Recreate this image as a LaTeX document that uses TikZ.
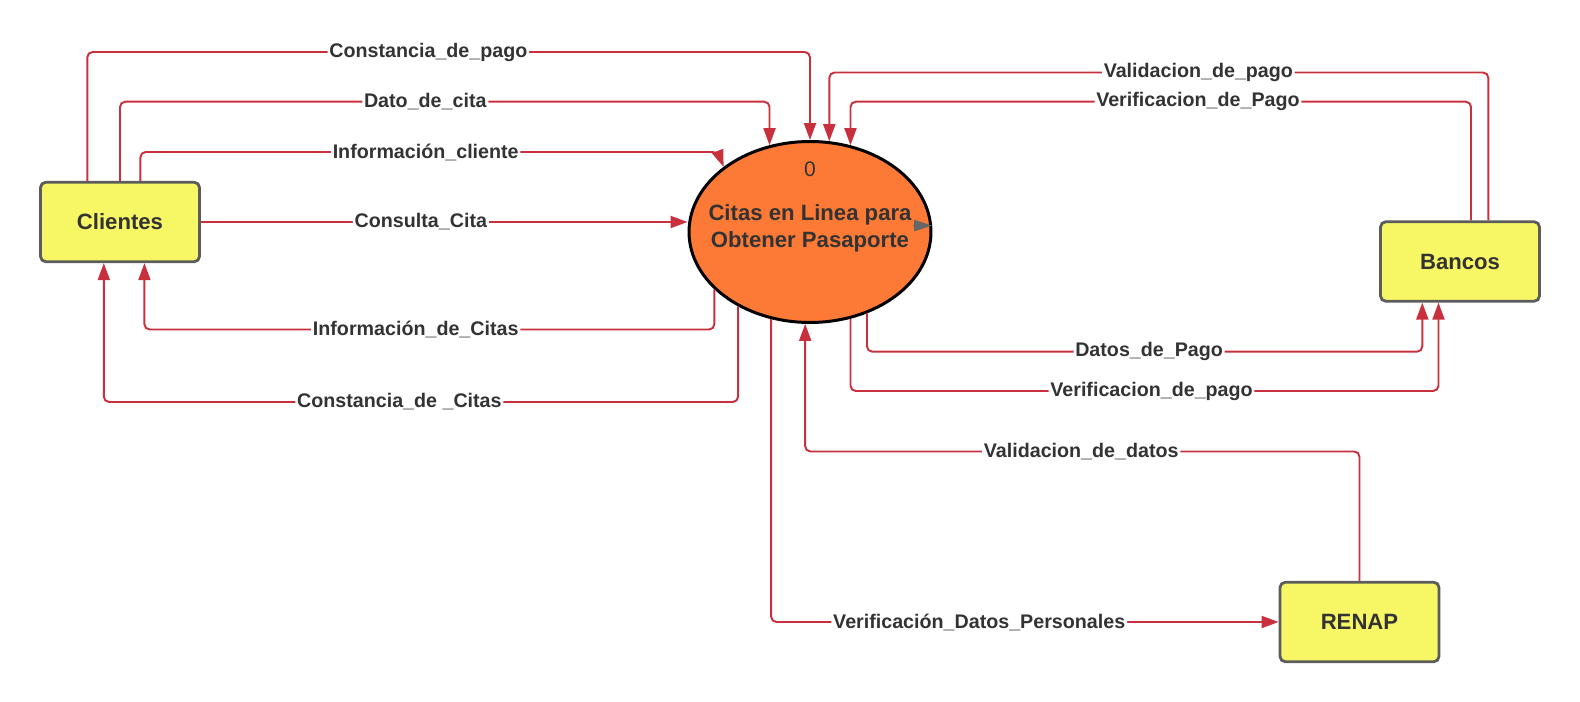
\documentclass[tikz,border=0pt]{standalone}
\usepackage{fontspec}
\setmainfont{Liberation Sans}
\usetikzlibrary{arrows.meta, positioning, shapes.geometric, calc}
\definecolor{flowred}{HTML}{C9303D}
\definecolor{procorange}{HTML}{FC7A35}
\definecolor{boxyellow}{HTML}{F7F766}
\definecolor{boxgray}{HTML}{5C5C5C}
\definecolor{txtgray}{HTML}{333333}
\definecolor{stubgray}{HTML}{666666}

\begin{document}
\begin{tikzpicture}[
  x=0.02cm, y=-0.02cm,
  every node/.style={text=txtgray},
  entbox/.style={rectangle, rounded corners=3pt, minimum width=3.18cm, minimum height=1.59cm, draw=boxgray, line width=1.6pt, fill=boxyellow, font=\fontsize{12.6}{15}\selectfont\bfseries},
  procnode/.style={ellipse, minimum width=4.84cm, minimum height=3.62cm, draw=black, line width=1.7pt, fill=procorange, inner sep=0pt},
  flow/.style={draw=flowred, line width=1.1pt, rounded corners=3pt, -{Triangle[length=0.34cm, width=0.24cm]}},
  flowlbl/.style={fill=white, inner sep=1pt, font=\fontsize{11.2}{13}\selectfont\bfseries},
]
\useasboundingbox (0,0) rectangle (1580,702);

\node[entbox] (cli) at (120, 222) {Clientes};
\node[entbox] (ban) at (1460, 261.5) {Bancos};
\node[entbox] (ren) at (1359.5, 622) {RENAP};
\node[procnode] (proc) at (810, 232) {};
\node[font=\fontsize{12}{14}\selectfont] (procnum) at (810, 169.5) {0};
\node[align=center, font=\fontsize{12.6}{15.4}\selectfont\bfseries] (proctxt) at (810, 228) {Citas en Linea para\\Obtener Pasaporte};

\coordinate (cliT1) at ($(cli.north west)!0.298!(cli.north east)$);
\coordinate (cliT3) at ($(cli.north west)!0.626!(cli.north east)$);
\coordinate (cliB1) at ($(cli.south west)!0.40!(cli.south east)$);
\coordinate (cliB2) at ($(cli.south west)!0.651!(cli.south east)$);
\coordinate (banT1) at ($(ban.north west)!0.568!(ban.north east)$);
\coordinate (banT2) at ($(ban.north west)!0.675!(ban.north east)$);
\coordinate (banB1) at ($(ban.south west)!0.267!(ban.south east)$);
\coordinate (banB2) at ($(ban.south west)!0.367!(ban.south east)$);

\coordinate (row1) at (0, 52);
\coordinate (row2) at (0, 101.7);
\coordinate (row3) at (718, 152);
\coordinate (row4) at (0, 72.5);
\coordinate (row5) at (0, 329.5);
\coordinate (row6) at (0, 402);
\coordinate (row7) at (0, 351.7);
\coordinate (row8) at (0, 391);
\coordinate (row9) at (0, 451.5);

% flows from Clientes
\draw[flow] (cliT1) |- (proc.north |- row1) node[flowlbl, pos=0.736] {Constancia\_de\_pago} -- (proc.north);
\draw[flow] (cli.north) |- (proc.115 |- row2) node[flowlbl, pos=0.735] {Dato\_de\_cita} -- (proc.115);
\draw[flow] (cliT3) |- (row3) node[flowlbl, pos=0.747] {Información\_cliente} -- (proc.143);
\draw[flow] (cli.east) -- (cli.east -| proc.west) node[flowlbl, pos=0.452] {Consulta\_Cita};
\draw[flow] (proc.211) |- (cliB2 |- row5) node[flowlbl, pos=0.762] {Información\_de\_Citas} -- (cliB2);
\draw[flow] (proc.226) |- (cliB1 |- row6) node[flowlbl, pos=0.767] {Constancia\_de \_Citas} -- (cliB1);

% flows with Bancos
\draw[flow] (banT2) |- (proc.78 |- row4) node[flowlbl, pos=0.720] {Validacion\_de\_pago} -- (proc.78);
\draw[flow] (banT1) |- (proc.65 |- row2) node[flowlbl, pos=0.720] {Verificacion\_de\_Pago} -- (proc.65);
\draw[flow] (proc.305) |- (banB1 |- row7) node[flowlbl, pos=0.754] {Datos\_de\_Pago} -- (banB1);
\draw[flow] (proc.295) |- (banB2 |- row8) node[flowlbl, pos=0.756] {Verificacion\_de\_pago} -- (banB2);

% flows with RENAP
\draw[flow] (ren.north) |- (proc.267 |- row9) node[flowlbl, pos=0.751] {Validacion\_de\_datos} -- (proc.267);
\draw[flow] (proc.246) |- (ren.west) node[flowlbl, pos=0.705] {Verificación\_Datos\_Personales};

\draw[stubgray, line width=1pt, -{Triangle[length=0.36cm, width=0.22cm]}] ([xshift=-0.38cm]proc.3) -- (proc.3);
\end{tikzpicture}
\end{document}
